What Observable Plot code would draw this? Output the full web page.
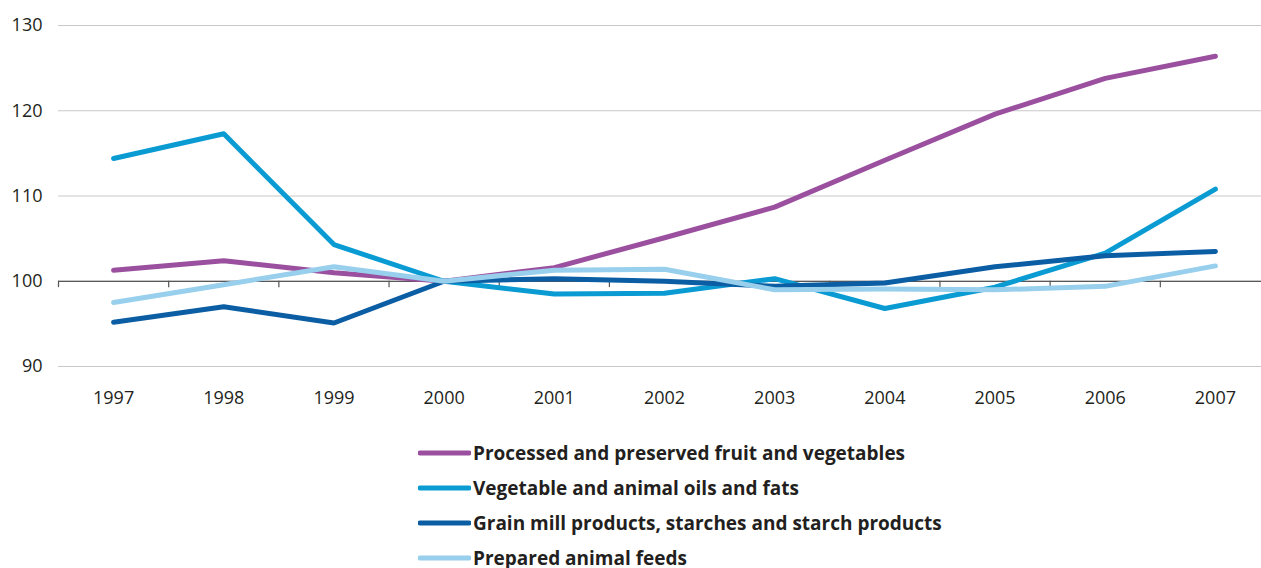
<!DOCTYPE html>
<html>
<head>
<meta charset="utf-8">
<script src="https://cdn.jsdelivr.net/npm/d3@7"></script>
<script src="https://cdn.jsdelivr.net/npm/@observablehq/plot@0.6"></script>
<style>
  html, body { margin: 0; padding: 0; background: #fff; overflow: hidden; }
  body { width: 1261px; height: 568px; font-family: "Open Sans", sans-serif; }
  #legend { position: absolute; left: 418px; top: 435px; }
  .item { display: flex; align-items: center; height: 35px; font-weight: bold; font-size: 19px; color: #231f20; }
  .item svg { margin-right: 2px; }
</style>
</head>
<body>
<div id="chart"></div>
<div id="legend"></div>
<script>
// Index, 2000 = 100
const years = [1997, 1998, 1999, 2000, 2001, 2002, 2003, 2004, 2005, 2006, 2007];
const seriesNames = [
  "Processed and preserved fruit and vegetables",
  "Vegetable and animal oils and fats",
  "Grain mill products, starches and starch products",
  "Prepared animal feeds"
];
const seriesColors = ["#9b509f", "#0a9bd3", "#0c5ea4", "#98cfec"];
const fruitVeg   = [101.3, 102.4, 101.0, 100, 101.6, 105.1, 108.7, 114.2, 119.6, 123.8, 126.4];
const oilsFats   = [114.4, 117.3, 104.3, 100, 98.5, 98.6, 100.3, 96.8, 99.3, 103.3, 110.8];
const grainMill  = [95.2, 97.0, 95.1, 100, 100.3, 100.0, 99.4, 99.8, 101.7, 103.0, 103.5];
const animalFeed = [97.5, 99.6, 101.7, 100, 101.3, 101.4, 99.0, 99.1, 99.0, 99.4, 101.8];
const yTicks = [90, 100, 110, 120, 130];
const gridValues = [90, 110, 120, 130];
const bandEdges = [1996.5, 1997.5, 1998.5, 1999.5, 2000.5, 2001.5, 2002.5, 2003.5, 2004.5, 2005.5, 2006.5];

const allSeries = [fruitVeg, oilsFats, grainMill, animalFeed];
const rows = [];
allSeries.forEach((vals, i) => {
  vals.forEach((v, j) => rows.push({series: seriesNames[i], year: years[j], value: v}));
});

const chart = Plot.plot({
  width: 1261,
  height: 420,
  marginTop: 25,
  marginBottom: 54,
  marginLeft: 58,
  marginRight: 0,
  style: {fontFamily: "Open Sans, sans-serif", fontSize: "17px", color: "#231f20", background: "#fff"},
  x: {domain: [1996.5, 2007.5], range: [58, 1270]},
  y: {domain: [90, 130]},
  color: {domain: seriesNames, range: seriesColors},
  marks: [
    Plot.ruleY(gridValues, {stroke: "#c8c8c8", strokeWidth: 1}),
    Plot.ruleY([100], {stroke: "#231f20", strokeWidth: 1.2}),
    Plot.ruleX(bandEdges, {y1: 100, y2: 99.25, stroke: "#555", strokeWidth: 1.2}),
    Plot.axisY(yTicks, {tickSize: 0, tickPadding: 16, fontSize: 18, label: null}),
    Plot.axisX(years, {anchor: "bottom", tickSize: 0, tickPadding: 25, tickFormat: d => String(d), fontSize: 18, label: null}),
    Plot.line(rows, {x: "year", y: "value", z: "series", stroke: "series", strokeWidth: 5, strokeLinecap: "round", strokeLinejoin: "round"})
  ]
});
document.getElementById("chart").appendChild(chart);

// Legend below the chart
const legend = d3.select("#legend");
seriesNames.forEach((name, i) => {
  const item = legend.append("div").attr("class", "item");
  const sw = item.append("svg").attr("width", 53).attr("height", 8);
  sw.append("line").attr("x1", 2).attr("x2", 51).attr("y1", 4).attr("y2", 4)
    .attr("stroke", seriesColors[i]).attr("stroke-width", 5).attr("stroke-linecap", "round");
  item.append("span").text(name);
});
</script>
</body>
</html>
